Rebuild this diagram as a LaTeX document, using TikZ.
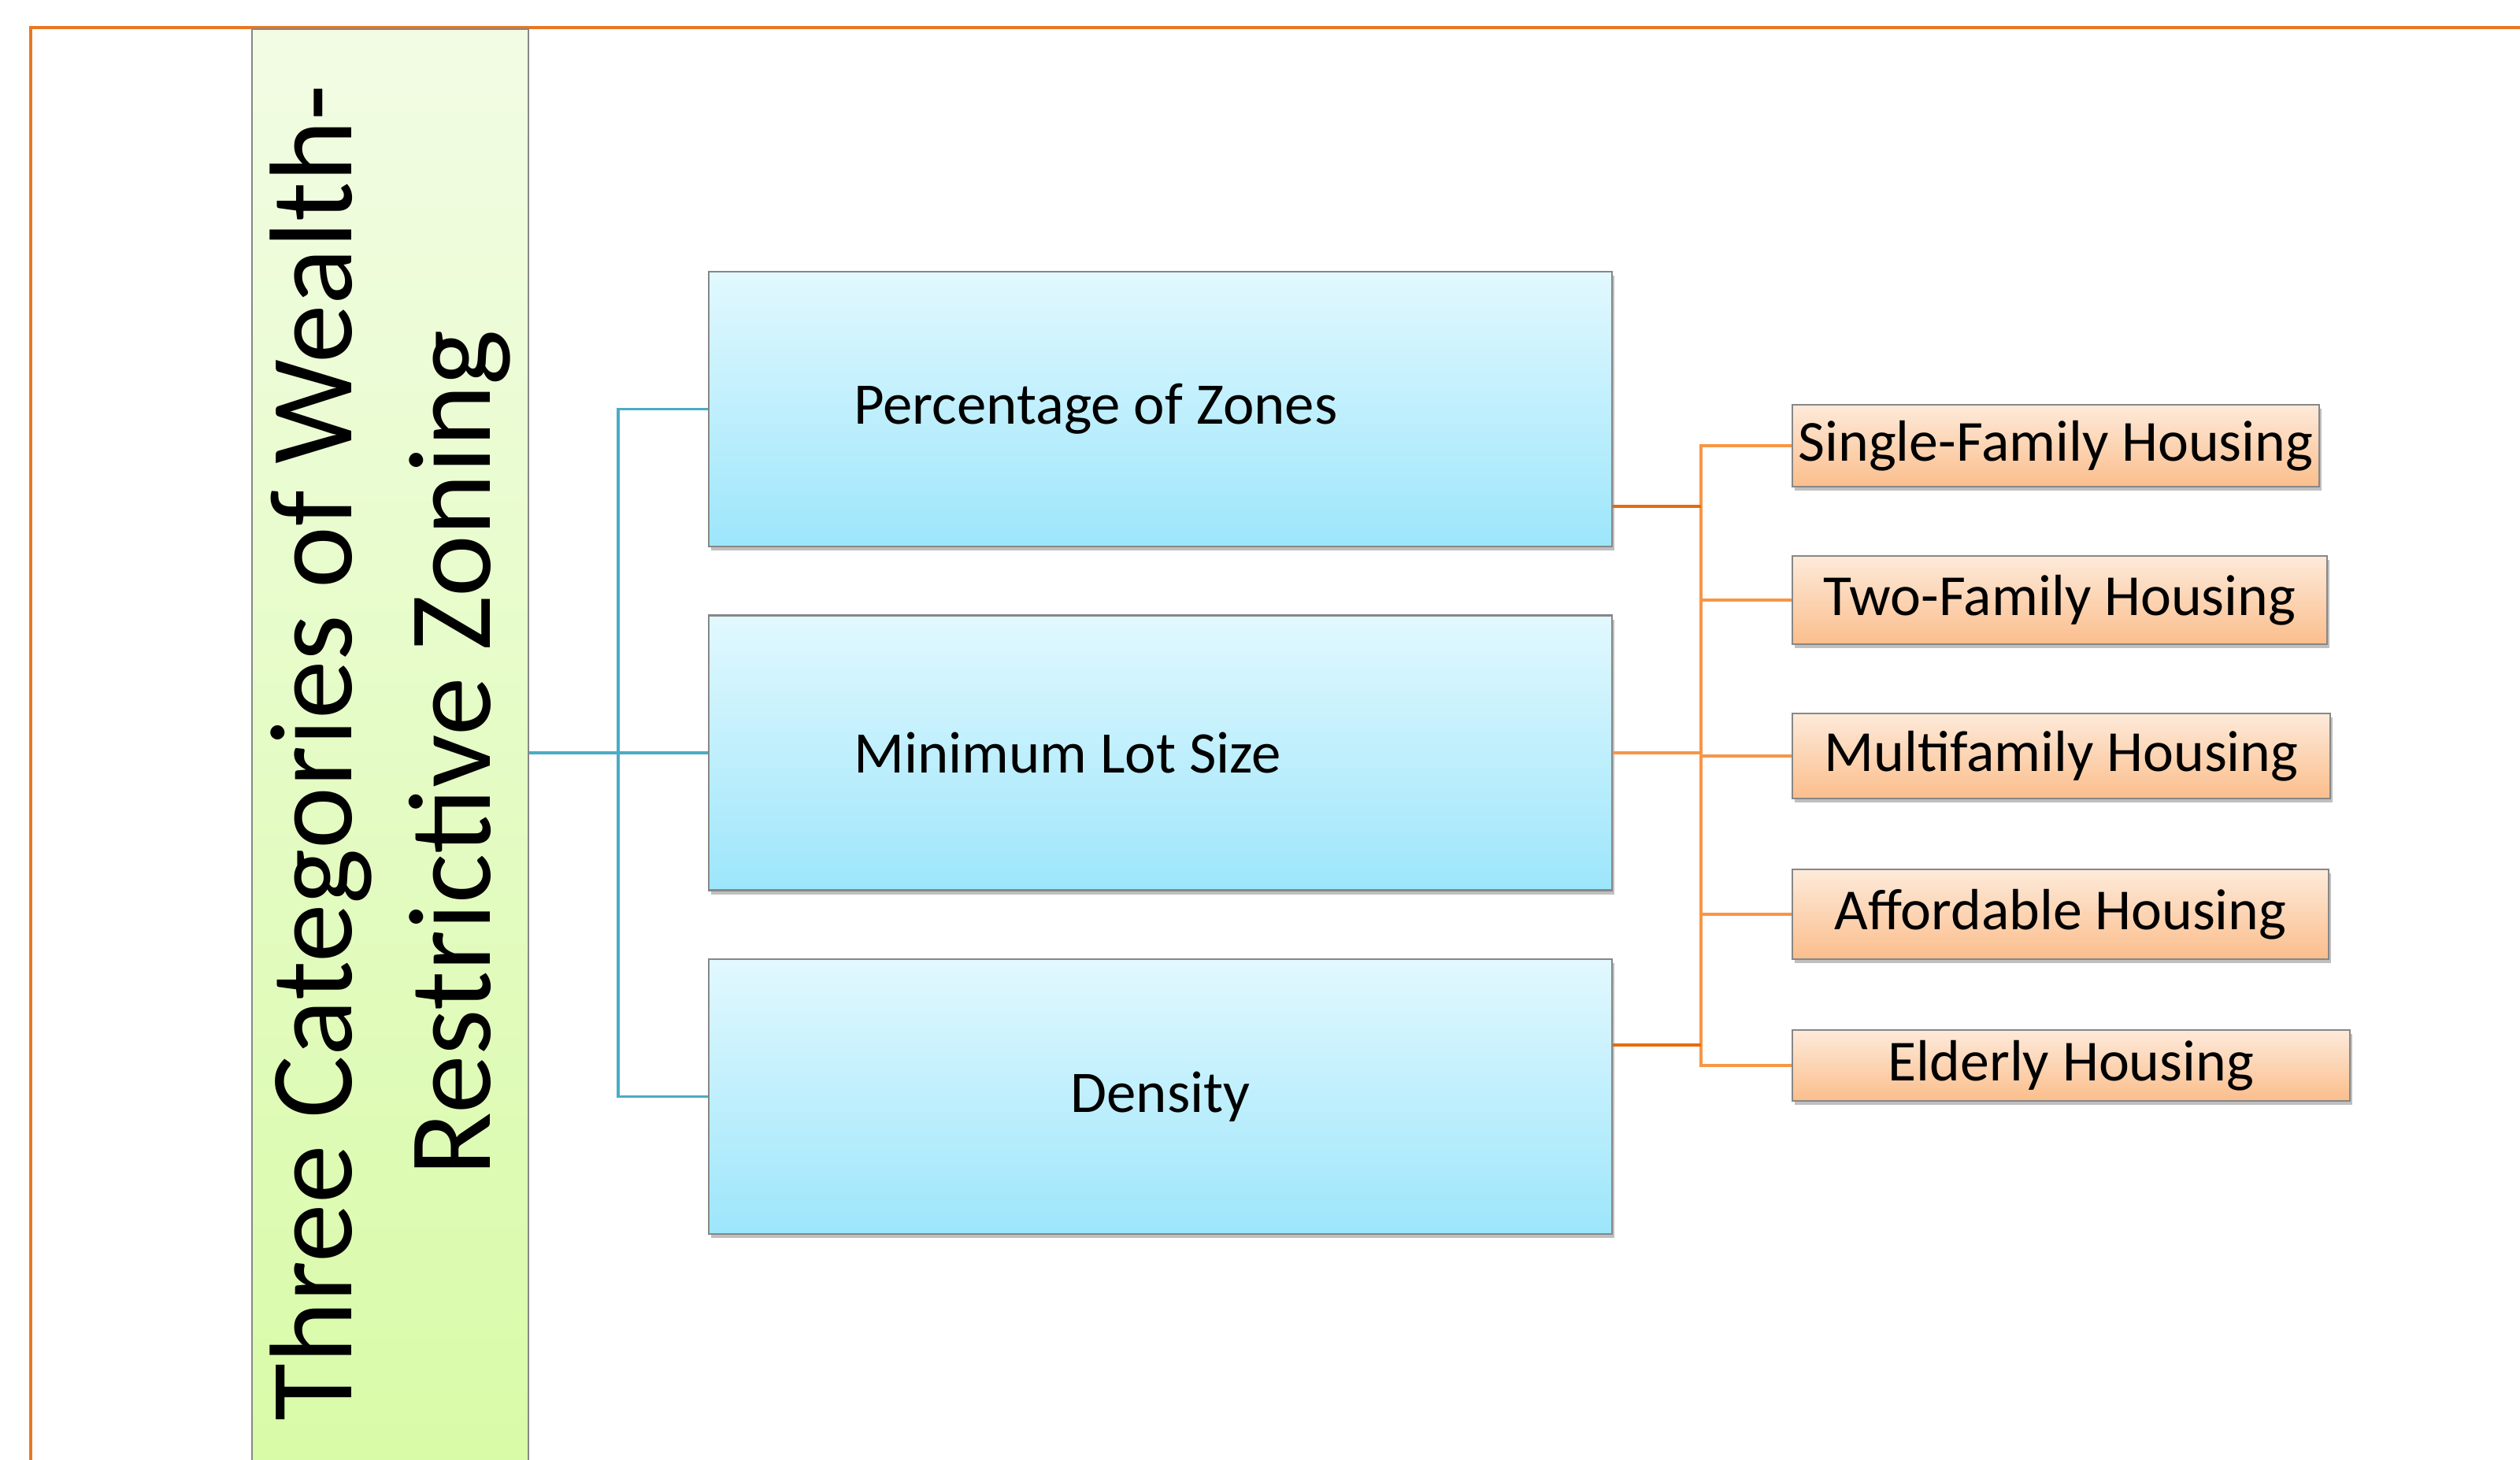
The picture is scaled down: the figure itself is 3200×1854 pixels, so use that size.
\documentclass[tikz,border=0pt]{standalone}
\usepackage{fontspec}
\setmainfont{Carlito}
\usetikzlibrary{shadows}
\definecolor{blueTop}{RGB}{226,248,254}
\definecolor{blueBot}{RGB}{157,230,251}
\definecolor{orTop}{RGB}{253,234,218}
\definecolor{orBot}{RGB}{251,190,140}
\definecolor{grTop}{RGB}{242,252,228}
\definecolor{grBot}{RGB}{216,251,167}
\definecolor{edgeGray}{RGB}{135,135,135}
\definecolor{frameOrange}{RGB}{232,119,34}
\definecolor{stubOrange}{RGB}{228,108,10}
\definecolor{branchOrange}{RGB}{247,150,70}
\definecolor{lineBlue}{RGB}{75,172,198}
\begin{document}
\begin{tikzpicture}[x=0.1mm,y=-0.1mm,
  softshadow/.style={drop shadow={shadow xshift=0.25mm,shadow yshift=-0.5mm,opacity=0.25,fill=black}},
  titlebox/.style={draw=edgeGray,line width=0.6pt,top color=grTop,bottom color=grBot,rotate=90,
    minimum width=183.8mm,minimum height=35.1mm,inner sep=0pt,align=center,
    font=\fontsize{42.5pt}{50pt}\selectfont},
  bluebox/.style={draw=edgeGray,line width=0.6pt,top color=blueTop,bottom color=blueBot,softshadow,
    minimum height=34.9mm,inner xsep=18.4mm,inner ysep=0pt,
    font=\fontsize{21.3pt}{25pt}\selectfont},
  housebox/.style={draw=edgeGray,line width=0.6pt,top color=orTop,bottom color=orBot,softshadow,
    inner sep=0pt,align=center,font=\fontsize{21pt}{25pt}\selectfont},
  frameline/.style={draw=frameOrange,line width=1.1pt},
  blueline/.style={draw=lineBlue,line width=1.1pt},
  stubline/.style={draw=stubOrange,line width=1.3pt},
  branchline/.style={draw=branchOrange,line width=0.9pt}]
\useasboundingbox (0,0) rectangle (3200,1854);
\clip (0,0) rectangle (3200,1854);
\draw[frameline] (39,1900) -- (39,35) -- (3250,35);
% title
\node[titlebox] (title) at (495.5,956) {Three Categories of Wealth-\\Restrictive Zoning};
% middle boxes
\node[bluebox] (b1) at (1473.5,519.5) {\hbox to 77.9mm{Percentage of Zones\hfil}};
\node[bluebox] (b2) at (1473.5,956) {\hbox to 77.9mm{Minimum Lot Size\hfil}};
\node[bluebox] (b3) at (1473.5,1392.5) {\hbox to 77.9mm{\hfil Density\hfil}};
% housing boxes
\node[housebox,minimum width=66.9mm,minimum height=10.4mm] (h1) at (2610.5,566) {Single-Family Housing};
\node[housebox,minimum width=67.9mm,minimum height=11.2mm] (h2) at (2615.5,762) {Two-Family Housing};
\node[housebox,minimum width=68.3mm,minimum height=10.8mm] (h3) at (2617.5,960) {Multifamily Housing};
\node[housebox,minimum width=68.1mm,minimum height=11.4mm] (h4) at (2616.5,1161) {Affordable Housing};
\node[housebox,minimum width=70.8mm,minimum height=9.0mm] (h5) at (2630,1353) {Elderly Housing};
% blue connectors
\coordinate (bj) at (785,956);
\draw[blueline] (title.south) -- (b2.west);
\draw[blueline] (b1.west) -| (bj) |- (b3.west);
% orange connectors
\coordinate (vj) at (2160,956);
\coordinate (s1) at (2160,643);
\coordinate (s3) at (2160,1327);
\draw[branchline] (h1.west) -| (vj) |- (h5.west);
\draw[branchline] (h2.west) -- (h2.west -| vj);
\draw[branchline] (h3.west) -- (h3.west -| vj);
\draw[branchline] (h4.west) -- (h4.west -| vj);
\draw[branchline] (b2.east) -- (vj);
\draw[stubline] (s1 -| b1.east) -- (s1);
\draw[stubline] (s3 -| b3.east) -- (s3);
\end{tikzpicture}
\end{document}
